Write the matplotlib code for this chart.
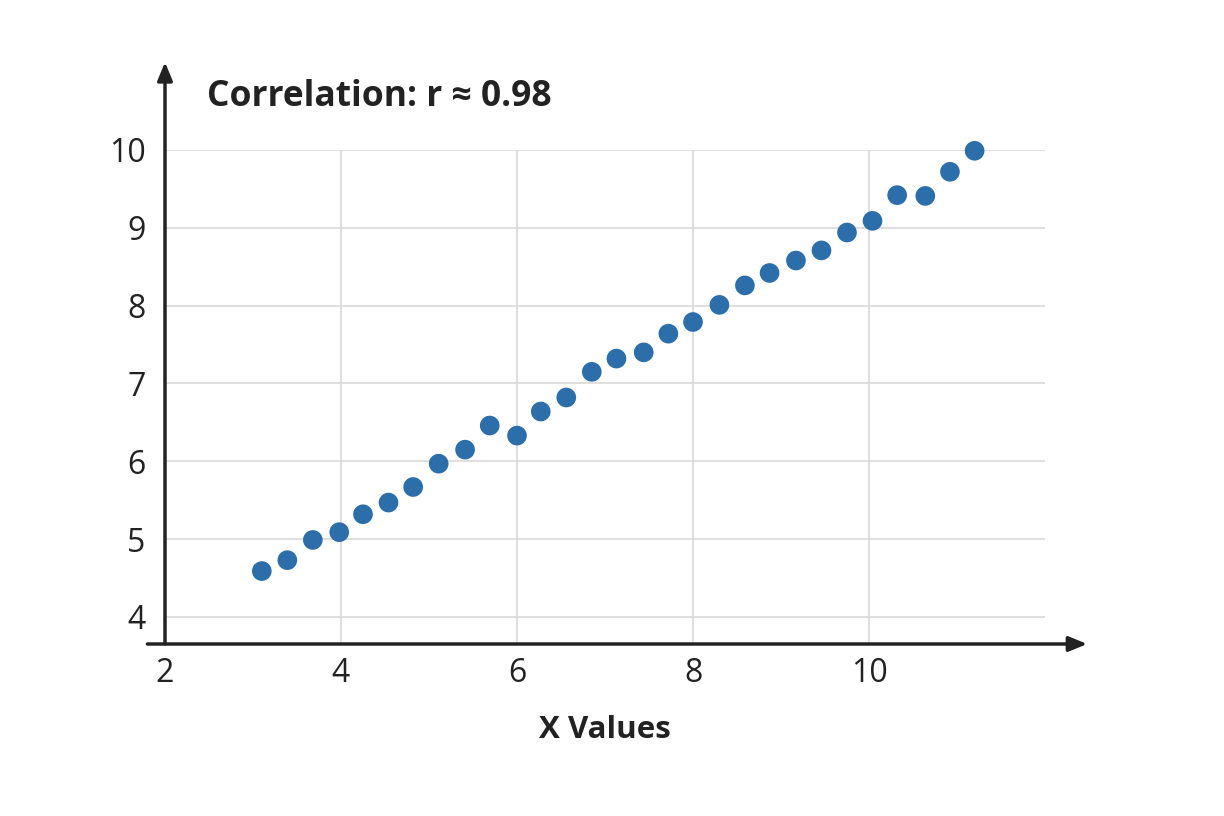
import numpy as np
import matplotlib.pyplot as plt

plt.rcParams["font.family"] = ["Open Sans", "DejaVu Sans"]

# Points
x_vals = [3.10, 3.39, 3.68, 3.98, 4.25, 4.54, 4.82, 5.11, 5.41, 5.69,
          6.00, 6.27, 6.56, 6.85, 7.13, 7.44, 7.72, 8.00, 8.30, 8.59,
          8.87, 9.17, 9.46, 9.75, 10.04, 10.32, 10.64, 10.92, 11.20]
y_vals = [4.59, 4.73, 4.99, 5.09, 5.32, 5.47, 5.67, 5.97, 6.15, 6.46,
          6.33, 6.64, 6.82, 7.15, 7.32, 7.40, 7.64, 7.79, 8.01, 8.26,
          8.42, 8.58, 8.71, 8.94, 9.09, 9.42, 9.41, 9.72, 9.99]
x_ticks = [2, 4, 6, 8, 10]
y_ticks = [4, 5, 6, 7, 8, 9, 10]

fig = plt.figure(figsize=(12.24, 8.16), dpi=100)
ax = fig.add_axes([165 / 1224, 1 - 644 / 816, 880 / 1224, 494 / 816])

ax.scatter(x_vals, y_vals, s=200, color="#2c6ea9", zorder=3, clip_on=False,
           edgecolors="none")

ax.set_xlim(2, 12)
ax.set_ylim(3.653, 10)
ax.set_xticks(x_ticks)
ax.set_yticks(y_ticks)
ax.tick_params(length=0, labelsize=23, colors="#222222")
ax.tick_params(axis="y", pad=14)
ax.tick_params(axis="x", pad=9)
ax.grid(True, color="#d9d9d9", linewidth=1.2)
ax.set_axisbelow(True)
for s in ax.spines.values():
    s.set_visible(False)

# axis arrows
arrow = dict(arrowstyle="-|>,head_length=1.1,head_width=0.45", color="#222222",
             lw=2.5, shrinkA=0, shrinkB=0)
ax.annotate("", xy=(1.048, 0), xytext=(-0.02, 0), xycoords="axes fraction",
            textcoords="axes fraction", arrowprops=arrow, annotation_clip=False)
ax.annotate("", xy=(0, 1.178), xytext=(0, 0), xycoords="axes fraction",
            textcoords="axes fraction", arrowprops=arrow, annotation_clip=False)

ax.set_xlabel("X Values", fontsize=22.5, fontweight="bold", color="#222222",
              labelpad=18)
fig.text(207 / 1224, 1 - 106 / 816, "Correlation: r \u2248 0.98", fontsize=25.5,
         fontweight="bold", color="#222222", ha="left", va="baseline")

fig.savefig("out.png", dpi=100, facecolor="white")
